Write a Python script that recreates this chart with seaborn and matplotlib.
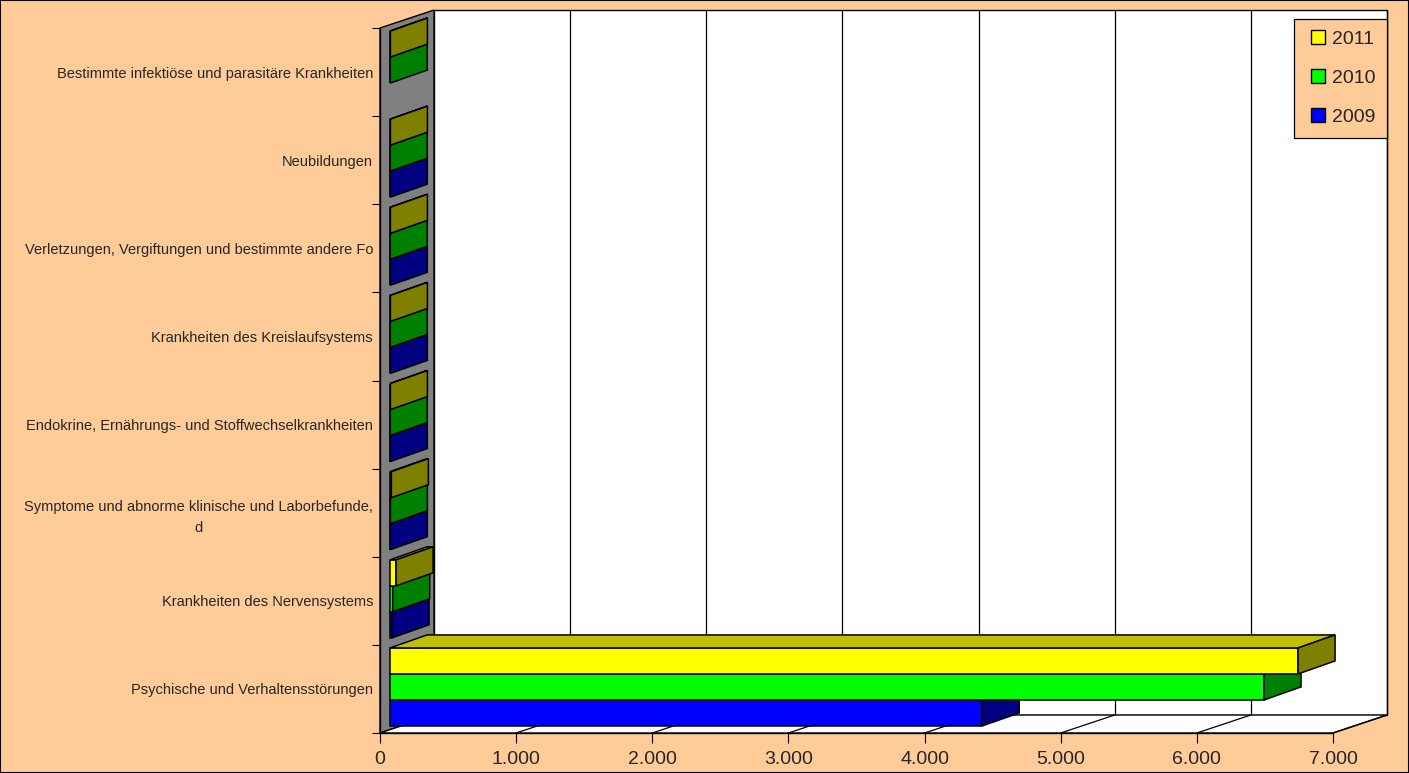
import numpy as np
import pandas as pd
import matplotlib
matplotlib.use("Agg")
import matplotlib.pyplot as plt
import seaborn as sns
from matplotlib.patches import Polygon, Rectangle
from matplotlib.lines import Line2D
from matplotlib.transforms import Affine2D, IdentityTransform
import matplotlib.ticker as mticker

# ---------------- data ----------------
categories = [
    "Bestimmte infektiöse und parasitäre Krankheiten",
    "Neubildungen",
    "Verletzungen, Vergiftungen und bestimmte andere Fo",
    "Krankheiten des Kreislaufsystems",
    "Endokrine, Ernährungs- und Stoffwechselkrankheiten",
    "Symptome und abnorme klinische und Laborbefunde,\nd",
    "Krankheiten des Nervensystems",
    "Psychische und Verhaltensstörungen",
]
years = ["2011", "2010", "2009"]
v2011 = [3, 3, 3, 3, 3, 10, 45, 6670]
v2010 = [2, 2, 2, 2, 2, 3, 20, 6420]
v2009 = [np.nan, 2, 2, 2, 2, 2, 15, 4350]
xticks = [0, 1000, 2000, 3000, 4000, 5000, 6000, 7000]

front_colors = {"2011": "#FFFF00", "2010": "#00FF00", "2009": "#0000FF"}
top_colors = {"2011": "#C0C000", "2010": "#00C000", "2009": "#0000C0"}
side_colors = {"2011": "#808000", "2010": "#008000", "2009": "#000080"}

rows = []
for yr, vals in zip(years, [v2011, v2010, v2009]):
    for c, v in zip(categories, vals):
        if not np.isnan(v):
            rows.append({"Kategorie": c, "Jahr": yr, "Wert": v})
df = pd.DataFrame(rows)

# ---------------- layout ----------------
W, H = 1409, 773
BG = "#FFCC99"
X0, X1, Y0, Y1 = 380, 1333, 28, 733      # front plane (image px)
DEPTH = (54, 18)                          # wall depth (display px, right/up)
BAR_SHIFT = (10, 2)
BAR_DEPTH = (37, 13)

sns.set_style("white")
plt.rcParams["font.family"] = ["Liberation Sans", "DejaVu Sans"]

fig = plt.figure(figsize=(W / 100, H / 100), dpi=100, facecolor=BG)
ax = fig.add_axes([X0 / W, 1 - Y1 / H, (X1 - X0) / W, (Y1 - Y0) / H])
ax.set_facecolor("none")

sns.barplot(data=df, y="Kategorie", x="Wert", hue="Jahr", order=categories,
            hue_order=years, orient="h", palette=front_colors, saturation=1,
            width=0.885, edgecolor="black", linewidth=1.1, legend=False, ax=ax)

ax.set_xlim(xticks[0], xticks[-1])
ax.set_ylim(len(categories) - 0.5, -0.5)
ax.set_xlabel("")
ax.set_ylabel("")

# ---------------- walls (derived from axes geometry) ----------------
bb = ax.bbox
L, R, B, T = bb.x0, bb.x1, bb.y0, bb.y1
dx, dy = DEPTH
ident = IdentityTransform()

left_wall = Polygon([(L, B), (L, T), (L + dx, T + dy), (L + dx, B + dy)],
                    closed=True, facecolor="#808080", edgecolor="black",
                    lw=1.0, transform=ident, zorder=0.2, clip_on=False)
floor = Polygon([(L, B), (R, B), (R + dx, B + dy), (L + dx, B + dy)],
                closed=True, facecolor="white", edgecolor="black",
                lw=1.0, transform=ident, zorder=0.2, clip_on=False)
back = Polygon([(L + dx, B + dy), (R + dx, B + dy), (R + dx, T + dy), (L + dx, T + dy)],
               closed=True, facecolor="white", edgecolor="black",
               lw=1.0, transform=ident, zorder=0.1, clip_on=False)
for p in (back, left_wall, floor):
    ax.add_patch(p)

for v in xticks[1:]:
    xd = ax.transData.transform((v, 0))[0]
    ax.add_line(Line2D([xd + dx, xd + dx], [B + dy, T + dy], color="black",
                       lw=0.9, transform=ident, zorder=0.15, clip_on=False))
    ax.add_line(Line2D([xd, xd + dx], [B, B + dy], color="black",
                       lw=0.9, transform=ident, zorder=0.25, clip_on=False))

# ---------------- 3D bars ----------------
shift = Affine2D().translate(*BAR_SHIFT)
bdx, bdy = BAR_DEPTH
rgb_to_year = {tuple(np.round(matplotlib.colors.to_rgb(c), 3)): y for y, c in front_colors.items()}
for p in list(ax.patches):
    if p in (back, left_wall, floor):
        continue
    fc = tuple(np.round(p.get_facecolor()[:3], 3))
    yr = rgb_to_year.get(fc)
    if yr is None:
        continue
    x0, w, y0, h = p.get_x(), p.get_width(), p.get_y(), p.get_height()
    a = ax.transData.transform((x0, y0))
    b = ax.transData.transform((x0 + w, y0 + h))
    left = min(a[0], b[0]) + BAR_SHIFT[0]
    right = max(a[0], b[0]) + BAR_SHIFT[0]
    ybot = min(a[1], b[1]) + BAR_SHIFT[1]
    ytop = max(a[1], b[1]) + BAR_SHIFT[1]
    cat = int(round(y0 + h / 2))
    hi = years.index(yr)
    z = 2 + cat * 0.1 + (len(years) - hi) * 0.01
    p.set_transform(ax.transData + shift)
    p.set_zorder(z)
    p.set_clip_on(False)
    top = Polygon([(left, ytop), (right, ytop), (right + bdx, ytop + bdy), (left + bdx, ytop + bdy)],
                  closed=True, facecolor=top_colors[yr], edgecolor="black", lw=1.1,
                  transform=ident, zorder=z + 0.001, clip_on=False)
    side = Polygon([(right, ybot), (right, ytop), (right + bdx, ytop + bdy), (right + bdx, ybot + bdy)],
                   closed=True, facecolor=side_colors[yr], edgecolor="black", lw=1.1,
                   transform=ident, zorder=z + 0.002, clip_on=False)
    ax.add_patch(top)
    ax.add_patch(side)

# ---------------- axes / ticks ----------------
for s in ("top", "right"):
    ax.spines[s].set_visible(False)
for s in ("left", "bottom"):
    ax.spines[s].set_color("black")
    ax.spines[s].set_linewidth(1.0)
    ax.spines[s].set_zorder(0.3)

ax.set_xticks(xticks)
ax.xaxis.set_major_formatter(mticker.FuncFormatter(lambda v, _: f"{int(v):,}".replace(",", ".")))
ax.tick_params(axis="x", direction="out", length=7, width=0.8, color="black",
               labelsize=14, pad=6, bottom=True)

ax.set_yticks(range(len(categories)))
ax.set_yticklabels(categories)
ax.set_yticks(np.arange(-0.5, len(categories), 1.0), minor=True)
ax.tick_params(axis="y", which="major", length=0, pad=5, labelsize=10.5)
ax.tick_params(axis="y", which="minor", direction="out", length=6, width=0.8,
               color="black", left=True)
for lab in ax.get_yticklabels():
    lab.set_multialignment("center")
    lab.set_linespacing(1.6)

# ---------------- legend ----------------
handles = [Line2D([], [], linestyle="none", marker="s", markersize=9.5,
                  markerfacecolor=front_colors[y], markeredgecolor="black",
                  markeredgewidth=1.0, label=y) for y in years]
leg = ax.legend(handles=handles, loc="upper right",
                bbox_to_anchor=(1387 / W, 1 - 19 / H), bbox_transform=fig.transFigure,
                frameon=True, fancybox=False, facecolor=BG, edgecolor="black",
                framealpha=1, fontsize=14, handlelength=1.3, handleheight=0.7,
                handletextpad=0.05, labelspacing=1.1, borderpad=0.6, borderaxespad=0)
leg.get_frame().set_linewidth(0.9)
leg.set_zorder(10)

fig.add_artist(Rectangle((0, 0), 1, 1, transform=fig.transFigure, fill=False,
                         edgecolor="black", lw=1.5))

fig.savefig("out.png", dpi=100, facecolor=BG)
